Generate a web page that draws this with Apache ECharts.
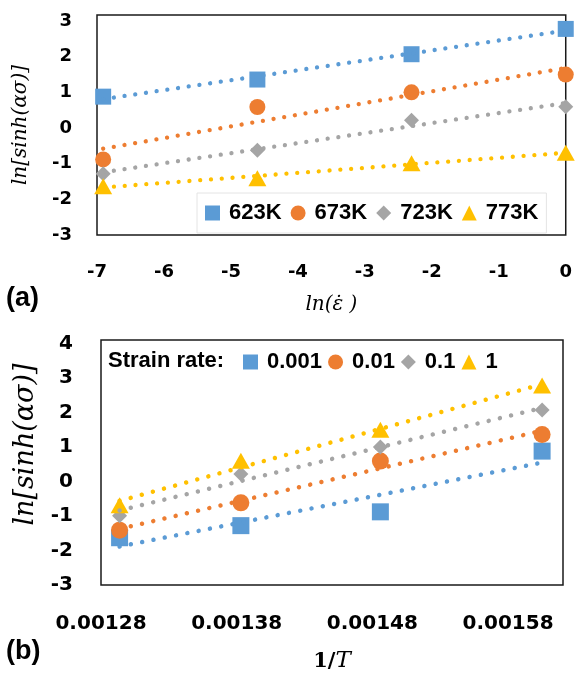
<!DOCTYPE html>
<html>
<head>
<meta charset="utf-8">
<script src="https://cdn.jsdelivr.net/npm/echarts@6/dist/echarts.min.js"></script>
<style>
  html, body { margin: 0; padding: 0; background: #fff; }
  #chart { width: 575px; height: 675px; }
</style>
</head>
<body>
<div id="chart"></div>
<script>
// Test temperatures and strain rates
const temperatures = ['623K', '673K', '723K', '773K'];
const strainRates = ['0.001', '0.01', '0.1', '1'];
// ln of each strain rate (x of panel a) and 1/T of each temperature (x of panel b)
const lnStrainRate = [-6.908, -4.605, -2.303, 0];
const inverseT = [0.0016051, 0.0014859, 0.0013831, 0.0012937];

// ln[sinh(ασ)] per temperature, columns follow strainRates
const lnSinh623 = [0.88, 1.36, 2.07, 2.78];
const lnSinh673 = [-0.88, 0.59, 1.00, 1.50];
const lnSinh723 = [-1.28, -0.62, 0.22, 0.60];
const lnSinh773 = [-1.63, -1.41, -0.99, -0.69];
const lnSinhRows = [lnSinh623, lnSinh673, lnSinh723, lnSinh773];

// Tick labels of the 1/T axis
const inverseTTicks = ['0.00128', '0.00138', '0.00148', '0.00158'];

const colors = ['#5B9BD5', '#ED7D31', '#A5A5A5', '#FFC000'];
const symbols = ['rect', 'circle', 'diamond', 'triangle'];
const symbolSizesA = [16, 16, [15, 15], [18, 16]];
const symbolSizesB = [17, 17, [15, 15], [18, 16]];

// Least-squares trend line spanning the data's x range
function trend(xs, ys) {
  const n = xs.length;
  const mx = xs.reduce((a, b) => a + b, 0) / n;
  const my = ys.reduce((a, b) => a + b, 0) / n;
  let sxy = 0, sxx = 0;
  for (let i = 0; i < n; i++) {
    sxy += (xs[i] - mx) * (ys[i] - my);
    sxx += (xs[i] - mx) * (xs[i] - mx);
  }
  const k = sxy / sxx;
  const x0 = Math.min(...xs), x1 = Math.max(...xs);
  return [[x0, my + k * (x0 - mx)], [x1, my + k * (x1 - mx)]];
}

const tickFont = { fontFamily: 'DejaVu Sans', fontWeight: 'bold', color: '#000' };
const nameFont = { fontFamily: 'DejaVu Serif', fontStyle: 'italic', color: '#000', fontSize: 20 };
const legendText = { fontFamily: 'Liberation Sans', fontWeight: 'bold', color: '#000', fontSize: 22, padding: [0, 0, 0, 4] };
// extra space after some strain-rate entries in the lower legend
const legendBPadRight = [12, 6, 4, 0];

const series = [];
// Panel (a): one series per temperature against ln(strain rate)
temperatures.forEach((name, i) => {
  const ys = lnSinhRows[i];
  series.push({
    name, type: 'scatter', xAxisIndex: 0, yAxisIndex: 0,
    symbol: symbols[i], symbolSize: symbolSizesA[i],
    itemStyle: { color: colors[i], opacity: 1 },
    data: lnStrainRate.map((x, j) => [x, ys[j]]), z: 2
  });
  series.push({
    name: name + ' trend', type: 'line', xAxisIndex: 0, yAxisIndex: 0,
    symbol: 'none', silent: true, z: 3,
    lineStyle: { color: colors[i], width: 4.3, type: [0.01, 10.8], cap: 'round' },
    data: trend(lnStrainRate, ys)
  });
});
// Panel (b): one series per strain rate against 1/T
strainRates.forEach((name, j) => {
  const ys = lnSinhRows.map(row => row[j]);
  series.push({
    name, type: 'scatter', xAxisIndex: 1, yAxisIndex: 1,
    symbol: symbols[j], symbolSize: symbolSizesB[j],
    itemStyle: { color: colors[j], opacity: 1 },
    data: inverseT.map((x, i) => [x, ys[i]]), z: 2
  });
  series.push({
    name: name + ' trend', type: 'line', xAxisIndex: 1, yAxisIndex: 1,
    symbol: 'none', silent: true, z: 3,
    lineStyle: { color: colors[j], width: 4.5, type: [0.01, 11.5], cap: 'round' },
    data: trend(inverseT, ys)
  });
});

const chart = echarts.init(document.getElementById('chart'), null, { renderer: 'canvas' });
chart.setOption({
  animation: false,
  backgroundColor: '#fff',
  grid: [
    { left: 97, right: 7, top: 15, bottom: 440, show: true, borderColor: '#1a1a1a', borderWidth: 1.5 },
    { left: 101, right: 12, top: 340, bottom: 90, show: true, borderColor: '#1a1a1a', borderWidth: 1.5 }
  ],
  xAxis: [
    {
      gridIndex: 0, type: 'value', min: -7, max: 0, interval: 1,
      axisLine: { show: false }, axisTick: { show: false }, splitLine: { show: false },
      axisLabel: Object.assign({ fontSize: 18, margin: 28 }, tickFont),
      name: 'ln(ε̇ )', nameLocation: 'middle', nameGap: 60, nameTextStyle: nameFont
    },
    {
      gridIndex: 1, type: 'value', min: 0.00128, max: 0.0016205, interval: 0.0001,
      axisLine: { show: false }, axisTick: { show: false }, splitLine: { show: false },
      axisLabel: Object.assign({
        fontSize: 20, margin: 29,
        formatter: v => { const s = v.toFixed(5); return inverseTTicks.includes(s) ? s : ''; }
      }, tickFont),
      name: '{n|1/}{t|T}', nameLocation: 'middle', nameGap: 65,
      nameTextStyle: {
        rich: {
          n: { fontFamily: 'DejaVu Serif', fontWeight: 'bold', fontSize: 21, color: '#000' },
          t: { fontFamily: 'DejaVu Serif', fontStyle: 'italic', fontSize: 23, color: '#000' }
        }
      }
    }
  ],
  yAxis: [
    {
      gridIndex: 0, type: 'value', min: -3, max: 3.17, interval: 1,
      axisLine: { show: false }, axisTick: { show: false }, splitLine: { show: false },
      axisLabel: Object.assign({ fontSize: 18, margin: 25, showMaxLabel: false,
        formatter: v => Number.isInteger(v) ? String(v) : '' }, tickFont),
      name: 'ln[sinh(ασ)]', nameLocation: 'middle', nameGap: 66, nameRotate: 90, nameTextStyle: nameFont
    },
    {
      gridIndex: 1, type: 'value', min: -3, max: 4.1, interval: 1,
      axisLine: { show: false }, axisTick: { show: false }, splitLine: { show: false },
      axisLabel: Object.assign({ fontSize: 20, margin: 28, showMaxLabel: false,
        formatter: v => Number.isInteger(v) ? String(v) : '' }, tickFont),
      name: 'ln[sinh(ασ)]', nameLocation: 'middle', nameGap: 50, nameRotate: 90,
      nameTextStyle: Object.assign({}, nameFont, { fontSize: 27, padding: [0, 0, 0, 36] })
    }
  ],
  legend: [
    {
      data: temperatures.map((n, i) => ({ name: n, icon: symbols[i] })),
      left: 197, top: 193, padding: [9, 8, 9, 8],
      itemWidth: 15, itemHeight: 15, itemGap: 9,
      borderColor: '#e4e4e4', borderWidth: 1,
      textStyle: legendText, selectedMode: false
    },
    {
      data: strainRates.map((n, j) => ({
        name: n, icon: symbols[j],
        textStyle: { padding: [0, legendBPadRight[j], 0, 4] }
      })),
      left: 243, top: 351, padding: 0,
      itemWidth: 15, itemHeight: 15, itemGap: 6,
      textStyle: legendText, selectedMode: false
    }
  ],
  graphic: [
    { type: 'text', left: 6, top: 285, style: { text: '(a)', font: 'bold 27px "Liberation Sans"', fill: '#000' } },
    { type: 'text', left: 6, top: 638, style: { text: '(b)', font: 'bold 27px "Liberation Sans"', fill: '#000' } },
    { type: 'text', left: 108, top: 350, style: { text: 'Strain rate:', font: 'bold 22px "Liberation Sans"', fill: '#000' } }
  ],
  series
});
</script>
</body>
</html>
